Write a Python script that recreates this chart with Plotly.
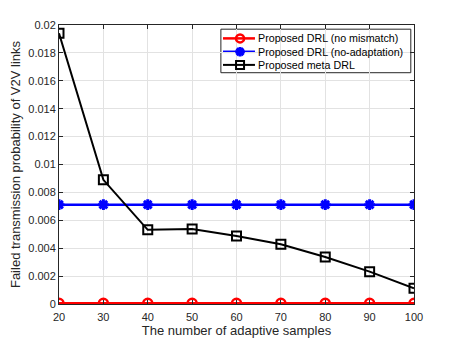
import plotly.graph_objects as go

samples = [20, 30, 40, 50, 60, 70, 80, 90, 100]
drl_no_mismatch = [0.00005] * 9
drl_no_adaptation = [0.00712] * 9
meta_drl = [0.0194, 0.0089, 0.00532, 0.00537, 0.00487, 0.00428, 0.00337, 0.00232, 0.00113]

x_ticks = [20, 30, 40, 50, 60, 70, 80, 90, 100]
y_ticks = [0, 0.002, 0.004, 0.006, 0.008, 0.01, 0.012, 0.014, 0.016, 0.018, 0.02]
y_labels = ['0', '0.002', '0.004', '0.006', '0.008', '0.01', '0.012', '0.014', '0.016', '0.018', '0.02']

series_names = ['Proposed DRL (no mismatch)', 'Proposed DRL (no-adaptation)', 'Proposed meta DRL']
series_colors = ['rgb(255,0,0)', 'rgb(0,0,255)', 'black']
series_symbols = ['circle-open', 'asterisk-open', 'square-open']
series_widths = [2.5, 2.5, 2]

font_name = 'Liberation Sans, Arial, sans-serif'

fig = go.Figure()

# the three curves
for name, vals, col, sym, w in zip(series_names, [drl_no_mismatch, drl_no_adaptation, meta_drl], series_colors, series_symbols, series_widths) :

	fig.add_trace(go.Scatter(
		x = samples, y = vals, mode = 'lines+markers', name = name,
		line = dict(color = col, width = w),
		marker = dict(symbol = sym, size = 9, color = col, line = dict(width = 3 if sym == 'asterisk-open' else w, color = col)),
		showlegend = False
	))

# hand made legend (MATLAB style, compact rows)
box = dict(x0 = 0.456, x1 = 0.991, y0 = 0.829, y1 = 0.985)
rows_y = [0.952, 0.904, 0.857]
line_x0, line_x1, mark_x, text_x = 0.462, 0.552, 0.510, 0.556

fig.add_shape(type = 'rect', xref = 'paper', yref = 'paper', layer = 'between',
	fillcolor = 'white', line = dict(color = 'rgb(38,38,38)', width = 1), **box)

for i in range(3) :

	fig.add_shape(type = 'line', xref = 'paper', yref = 'paper', layer = 'between',
		x0 = line_x0, x1 = line_x1, y0 = rows_y[i], y1 = rows_y[i],
		line = dict(color = series_colors[i], width = series_widths[i]))
	fig.add_trace(go.Scatter(
		x = [mark_x], y = [rows_y[i]], xaxis = 'x2', yaxis = 'y2', mode = 'markers',
		marker = dict(symbol = series_symbols[i], size = 8, color = series_colors[i],
			line = dict(width = 3 if series_symbols[i] == 'asterisk-open' else series_widths[i], color = series_colors[i])),
		showlegend = False, hoverinfo = 'skip'
	))
	fig.add_annotation(xref = 'paper', yref = 'paper', x = text_x, y = rows_y[i],
		xanchor = 'left', yanchor = 'middle', showarrow = False, text = series_names[i],
		font = dict(size = 10.7, color = 'black', family = font_name))

axis_common = dict(
	showgrid = True, gridcolor = 'rgb(226,226,226)', gridwidth = 1,
	showline = True, linecolor = 'rgb(38,38,38)', linewidth = 1, mirror = 'ticks',
	ticks = 'inside', ticklen = 4, tickcolor = 'rgb(38,38,38)',
	zeroline = False, tickfont = dict(size = 11, color = 'rgb(38,38,38)', family = font_name)
)

fig.update_layout(
	width = 449, height = 335,
	paper_bgcolor = 'white', plot_bgcolor = 'white',
	margin = dict(l = 51, r = 43, t = 17, b = 39, autoexpand = False),
	font = dict(family = font_name, color = 'rgb(38,38,38)'),
	xaxis = dict(
		range = [20, 100], tickvals = x_ticks, ticklabelstandoff = 3,
		title = dict(text = 'The number of adaptive samples', font = dict(size = 13), standoff = 2),
		**axis_common
	),
	yaxis = dict(
		range = [0, 0.02], tickvals = y_ticks, ticktext = y_labels,
		title = dict(text = 'Failed transmission probability of V2V links', font = dict(size = 13), standoff = 4),
		**axis_common
	),
	xaxis2 = dict(overlaying = 'x', range = [0, 1], visible = False),
	yaxis2 = dict(overlaying = 'y', range = [0, 1], visible = False),
	showlegend = False
)

fig.write_html("out.html")
